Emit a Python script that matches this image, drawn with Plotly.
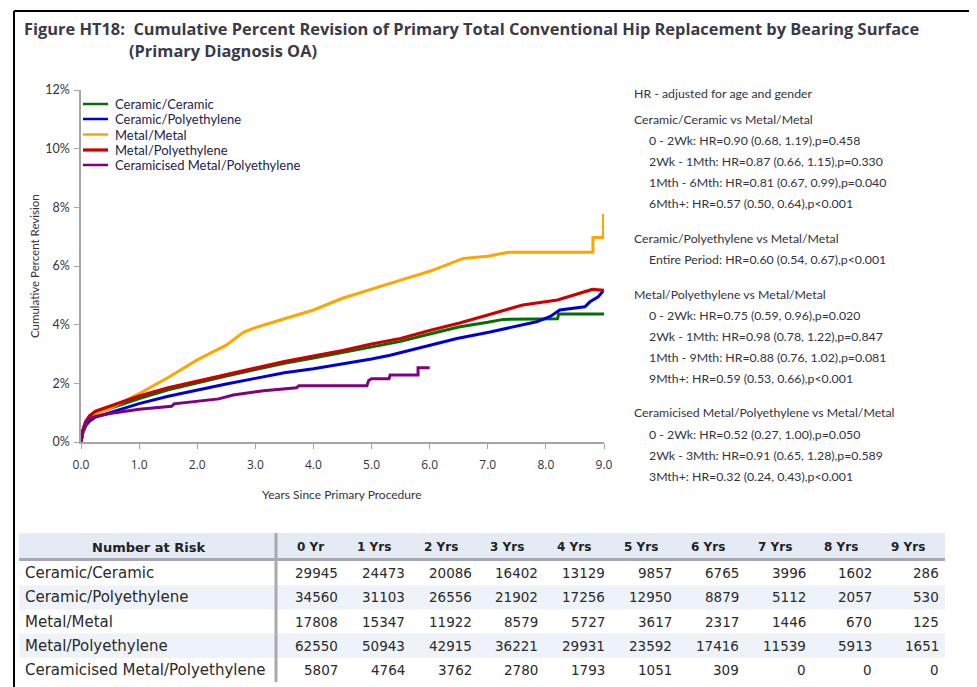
import plotly.graph_objects as go

# ---------------- data ----------------
series_names = ["Ceramic/Ceramic", "Ceramic/Polyethylene", "Metal/Metal",
                "Metal/Polyethylene", "Ceramicised Metal/Polyethylene"]
series_colors = ["#007000", "#0000d0", "#ffa500", "#cc0000", "#800080"]

years_cc = [0, 0.03, 0.08, 0.15, 0.25, 0.5, 1.0, 1.5, 2.0, 2.5, 3.0, 3.5, 4.0, 4.5,
            5.0, 5.5, 6.0, 6.5, 7.0, 7.27, 8.2, 8.22, 9.0]
pct_cc = [0, 0.35, 0.65, 0.85, 0.98, 1.15, 1.48, 1.78, 2.02, 2.25, 2.47, 2.68, 2.86, 3.05,
          3.22, 3.43, 3.68, 3.92, 4.08, 4.18, 4.2, 4.36, 4.36]

years_cp = [0, 0.03, 0.08, 0.15, 0.25, 0.5, 1.0, 1.5, 2.0, 2.5, 3.0, 3.5, 4.0, 4.5, 5.0,
            5.32, 5.89, 6.47, 7.04, 7.38, 7.84, 8.07, 8.24, 8.67, 8.76, 8.9, 9.0]
pct_cp = [0, 0.3, 0.55, 0.72, 0.85, 1.0, 1.31, 1.56, 1.78, 1.98, 2.17, 2.36, 2.5, 2.66, 2.83,
          2.96, 3.24, 3.53, 3.75, 3.9, 4.1, 4.27, 4.5, 4.61, 4.78, 4.95, 5.18]

years_mm = [0, 0.03, 0.08, 0.15, 0.3, 0.5, 1.0, 1.5, 2.0, 2.5, 2.8, 3.0, 3.5, 4.0, 4.5,
            5.0, 5.5, 6.0, 6.58, 7.0, 7.35, 8.81, 8.81, 8.99, 8.99]
pct_mm = [0, 0.35, 0.65, 0.85, 1.0, 1.15, 1.65, 2.2, 2.8, 3.3, 3.75, 3.9, 4.2, 4.5, 4.9,
          5.22, 5.52, 5.82, 6.26, 6.33, 6.47, 6.47, 6.97, 6.97, 7.77]

years_mp = [0, 0.03, 0.08, 0.15, 0.25, 0.5, 1.0, 1.5, 2.0, 2.5, 3.0, 3.5, 4.0, 4.5, 5.0,
            5.5, 6.0, 6.5, 7.0, 7.6, 8.2, 8.5, 8.8, 9.0]
pct_mp = [0, 0.4, 0.7, 0.9, 1.05, 1.22, 1.57, 1.85, 2.07, 2.28, 2.5, 2.74, 2.93, 3.12, 3.34,
          3.53, 3.8, 4.05, 4.33, 4.67, 4.84, 5.02, 5.2, 5.17]

years_cmp = [0, 0.03, 0.08, 0.15, 0.25, 0.5, 1.0, 1.56, 1.6, 2.0, 2.37, 2.62, 3.14, 3.71,
             3.75, 4.92, 4.95, 5.0, 5.3, 5.32, 5.8, 5.8, 6.0]
pct_cmp = [0, 0.35, 0.65, 0.8, 0.87, 0.97, 1.12, 1.22, 1.3, 1.38, 1.47, 1.6, 1.75, 1.85,
           1.92, 1.92, 2.1, 2.16, 2.16, 2.28, 2.28, 2.53, 2.53]

series_years = [years_cc, years_cp, years_mm, years_mp, years_cmp]
series_pct = [pct_cc, pct_cp, pct_mm, pct_mp, pct_cmp]

x_ticks = [0, 1, 2, 3, 4, 5, 6, 7, 8, 9]
y_ticks = [0, 2, 4, 6, 8, 10, 12]

hr_lines = [
    ("HR - adjusted for age and gender", 0),
    ("Ceramic/Ceramic vs Metal/Metal", 0),
    ("0 - 2Wk: HR=0.90 (0.68, 1.19),p=0.458", 1),
    ("2Wk - 1Mth: HR=0.87 (0.66, 1.15),p=0.330", 1),
    ("1Mth - 6Mth: HR=0.81 (0.67, 0.99),p=0.040", 1),
    ("6Mth+: HR=0.57 (0.50, 0.64),p<0.001", 1),
    ("Ceramic/Polyethylene vs Metal/Metal", 0),
    ("Entire Period: HR=0.60 (0.54, 0.67),p<0.001", 1),
    ("Metal/Polyethylene vs Metal/Metal", 0),
    ("0 - 2Wk: HR=0.75 (0.59, 0.96),p=0.020", 1),
    ("2Wk - 1Mth: HR=0.98 (0.78, 1.22),p=0.847", 1),
    ("1Mth - 9Mth: HR=0.88 (0.76, 1.02),p=0.081", 1),
    ("9Mth+: HR=0.59 (0.53, 0.66),p<0.001", 1),
    ("Ceramicised Metal/Polyethylene vs Metal/Metal", 0),
    ("0 - 2Wk: HR=0.52 (0.27, 1.00),p=0.050", 1),
    ("2Wk - 3Mth: HR=0.91 (0.65, 1.28),p=0.589", 1),
    ("3Mth+: HR=0.32 (0.24, 0.43),p<0.001", 1),
]
hr_y = [93, 119, 140, 161, 182, 203, 238, 259, 294, 315, 336, 357, 378, 412, 434, 455, 476]

risk_header = ["0 Yr", "1 Yrs", "2 Yrs", "3 Yrs", "4 Yrs", "5 Yrs", "6 Yrs", "7 Yrs", "8 Yrs", "9 Yrs"]
risk_cc = [29945, 24473, 20086, 16402, 13129, 9857, 6765, 3996, 1602, 286]
risk_cp = [34560, 31103, 26556, 21902, 17256, 12950, 8879, 5112, 2057, 530]
risk_mm = [17808, 15347, 11922, 8579, 5727, 3617, 2317, 1446, 670, 125]
risk_mp = [62550, 50943, 42915, 36221, 29931, 23592, 17416, 11539, 5913, 1651]
risk_cmp = [5807, 4764, 3762, 2780, 1793, 1051, 309, 0, 0, 0]
risk_rows = [risk_cc, risk_cp, risk_mm, risk_mp, risk_cmp]

# ---------------- geometry helpers ----------------
# the page body has an 8px margin, so the figure is drawn 8px in from the window edge
OFF = 8
W, H = 977 - OFF, 687 - OFF
# screen positions of the plot area in the window
S_L, S_R, S_T, S_B = 81, 604, 90, 442
ML, MT = S_L - OFF, S_T - OFF
MR = W - (S_R - OFF)
MB = H - (S_B - OFF)
PW = W - ML - MR
PH = H - MT - MB


def px(x):
    """window x pixel -> paper x"""
    return (x - OFF - ML) / PW


def py(y):
    """window y pixel -> paper y"""
    return (H - MB - (y - OFF)) / PH


TXT = "#333340"

fig = go.Figure()
for name, color, xs, ys in zip(series_names, series_colors, series_years, series_pct):
    fig.add_trace(go.Scatter(x=xs, y=ys, mode="lines", name=name,
                             line=dict(color=color, width=3.2 if color == "#cc0000" else 3),
                             showlegend=False))

shapes = []
annotations = []

# frame
shapes.append(dict(type="line", xref="paper", yref="paper", x0=px(14), x1=px(990), y0=py(11), y1=py(11),
                   line=dict(color="black", width=2)))
shapes.append(dict(type="line", xref="paper", yref="paper", x0=px(14), x1=px(14), y0=py(11), y1=py(700),
                   line=dict(color="black", width=2)))

# title
TFAM = "Open Sans"
annotations.append(dict(text="<b>Figure HT18:  Cumulative Percent Revision of Primary Total Conventional Hip Replacement by Bearing Surface</b>",
                        x=px(22), y=py(28), xref="paper", yref="paper", xanchor="left", yanchor="middle",
                        showarrow=False, font=dict(family=TFAM, size=16.4, color="#3a3a48")))
annotations.append(dict(text="<b>(Primary Diagnosis OA)</b>",
                        x=px(127), y=py(50), xref="paper", yref="paper", xanchor="left", yanchor="middle",
                        showarrow=False, font=dict(family=TFAM, size=16.4, color="#3a3a48")))

# manual legend
leg_y = [104, 119, 134.5, 150, 165]
for name, color, ly in zip(series_names, series_colors, leg_y):
    shapes.append(dict(type="line", xref="paper", yref="paper", x0=px(83), x1=px(108), y0=py(ly), y1=py(ly),
                       line=dict(color=color, width=3.2 if color == "#cc0000" else 2.5)))
    annotations.append(dict(text=name, x=px(113), y=py(ly), xref="paper", yref="paper",
                            xanchor="left", yanchor="middle", showarrow=False,
                            font=dict(family="Lato", size=13, color="#22224a")))

# axis titles
annotations.append(dict(text="Cumulative Percent Revision", x=px(34), y=py(266), xref="paper", yref="paper",
                        textangle=-90, showarrow=False, xanchor="center", yanchor="middle",
                        font=dict(family="Lato", size=11.5, color=TXT)))
annotations.append(dict(text="Years Since Primary Procedure", x=px(342), y=py(494), xref="paper", yref="paper",
                        showarrow=False, xanchor="center", yanchor="middle",
                        font=dict(family="Lato", size=12, color=TXT)))

# HR text
for (txt, indent), yy in zip(hr_lines, hr_y):
    annotations.append(dict(text=txt, x=px(632 + 15 * indent), y=py(yy), xref="paper", yref="paper",
                            xanchor="left", yanchor="middle", showarrow=False,
                            font=dict(family="Lato", size=12.3, color=TXT)))

# ---------------- number at risk table ----------------
T_L, T_R = 19, 945
HDR_T, HDR_B = 533, 558
row_y = [573.3, 597.3, 621.5, 645.7, 670]
ROW_H = 24.2
col_right = [340 + 66.8 * i for i in range(len(risk_header))]

shapes.append(dict(type="rect", xref="paper", yref="paper", x0=px(T_L), x1=px(T_R), y0=py(HDR_T), y1=py(HDR_B),
                   fillcolor="#e4ebf5", line=dict(width=0), layer="below"))
for i in (1, 3):
    shapes.append(dict(type="rect", xref="paper", yref="paper", x0=px(T_L), x1=px(T_R),
                       y0=py(row_y[i] - ROW_H / 2), y1=py(row_y[i] + ROW_H / 2),
                       fillcolor="#eef3fa", line=dict(width=0), layer="below"))
shapes.append(dict(type="line", xref="paper", yref="paper", x0=px(T_L), x1=px(T_R), y0=py(559.5), y1=py(559.5),
                   line=dict(color="#a8a8b0", width=3)))
shapes.append(dict(type="line", xref="paper", yref="paper", x0=px(276), x1=px(276), y0=py(HDR_T), y1=py(682),
                   line=dict(color="#a8a8b0", width=3)))

TFONT = "DejaVu Sans"
annotations.append(dict(text="<b>Number at Risk</b>", x=px(148), y=py(547), xref="paper", yref="paper",
                        xanchor="center", yanchor="middle", showarrow=False,
                        font=dict(family=TFONT, size=13, color="#222")))
for hdr, cr in zip(risk_header, col_right):
    annotations.append(dict(text="<b>" + hdr + "</b>", x=px(cr - 14), y=py(547), xref="paper", yref="paper",
                            xanchor="right", yanchor="middle", showarrow=False,
                            font=dict(family=TFONT, size=12, color="#222")))
for name, vals, ry in zip(series_names, risk_rows, row_y):
    annotations.append(dict(text=name, x=px(23), y=py(ry), xref="paper", yref="paper",
                            xanchor="left", yanchor="middle", showarrow=False,
                            font=dict(family=TFONT, size=15, color="#2a2a2a")))
    for v, cr in zip(vals, col_right):
        annotations.append(dict(text=str(v), x=px(cr), y=py(ry), xref="paper", yref="paper",
                                xanchor="right", yanchor="middle", showarrow=False,
                                font=dict(family=TFONT, size=13.5, color="#2a2a2a")))

fig.update_layout(
    width=W, height=H,
    margin=dict(l=ML, r=MR, t=MT, b=MB, pad=0),
    paper_bgcolor="white", plot_bgcolor="white",
    shapes=shapes, annotations=annotations,
    showlegend=False,
    xaxis=dict(range=[0, 9], tickvals=x_ticks, ticktext=[f"{v:.1f}" for v in x_ticks],
               showgrid=False, zeroline=False, showline=True, linecolor="#a6a6a6", linewidth=1.5,
               ticks="outside", ticklen=5, tickcolor="#a6a6a6", ticklabelstandoff=6,
               tickfont=dict(family="Open Sans", size=12, color=TXT)),
    yaxis=dict(range=[0, 12], tickvals=y_ticks, ticktext=[f"{v}%" for v in y_ticks],
               showgrid=False, zeroline=False, showline=True, linecolor="#a6a6a6", linewidth=1.5,
               ticks="outside", ticklen=5, tickcolor="#a6a6a6", ticklabelstandoff=2,
               tickfont=dict(family="Lato", size=12.5, color=TXT)),
)

fig.write_html("out.html")
